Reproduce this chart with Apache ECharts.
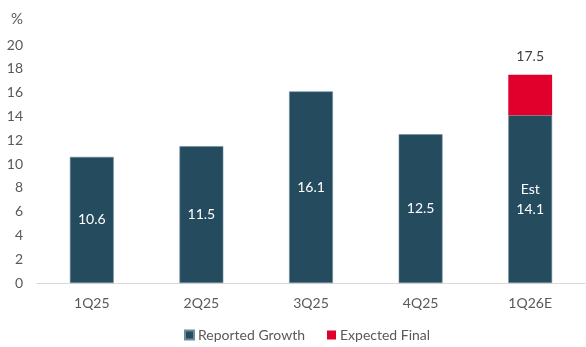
<!DOCTYPE html>
<html><head><meta charset="utf-8">
<script src="https://cdn.jsdelivr.net/npm/echarts@6/dist/echarts.min.js"></script>
<style>html,body{margin:0;padding:0;background:#fff}#c{width:586px;height:347px}</style>
</head><body><div id="c"></div>
<script>
const categories = ['1Q25','2Q25','3Q25','4Q25','1Q26E'];
const reportedGrowth = [10.6, 11.5, 16.1, 12.5, 14.1];
const expectedFinal = [null, null, null, null, 17.5];
const estimateIndex = 4;

const chart = echarts.init(document.getElementById('c'), null, {renderer:'canvas'});
const font = 'Lato, "Open Sans", sans-serif';
chart.setOption({
  animation:false,
  textStyle:{fontFamily:font},
  title:{text:'%', left:6, top:7, textStyle:{fontSize:15, fontWeight:'normal', color:'#595959', fontFamily:font}},
  grid:{left:37, right:1, top:45, bottom:64, containLabel:false},
  legend:{bottom:0, left:179, itemWidth:9, itemHeight:9, itemGap:22, icon:'rect',
    textStyle:{fontSize:14, color:'#595959', fontFamily:font, padding:[0,0,0,-1]},
    data:['Reported Growth','Expected Final']},
  xAxis:{type:'category', data:categories,
    axisLine:{lineStyle:{color:'#d9d9d9'}}, axisTick:{show:false},
    axisLabel:{fontSize:14, color:'#595959', margin:13, fontFamily:font}},
  yAxis:{type:'value', min:0, max:20, interval:2,
    axisLine:{show:false}, axisTick:{show:false}, splitLine:{show:false},
    axisLabel:{fontSize:14, color:'#595959', margin:14, fontFamily:font}},
  series:[
    {name:'Reported Growth', type:'bar', stack:'a', barWidth:'40%', data:reportedGrowth,
     itemStyle:{color:'#254b5f', borderColor:'#6f8c9c', borderWidth:0.6},
     label:{show:true, position:'inside', color:'#ffffff', fontSize:14, lineHeight:20, fontFamily:font,
       formatter:p => p.dataIndex===estimateIndex ? 'Est\n'+p.value.toFixed(1) : p.value.toFixed(1)}},
    {name:'Expected Final', type:'bar', stack:'a', barWidth:'40%',
     data:expectedFinal.map((v,i)=> v==null ? null : +(v-reportedGrowth[i]).toFixed(2)),
     itemStyle:{color:'#e0002b'},
     label:{show:true, position:'top', distance:11, color:'#404040', fontSize:14, fontFamily:font,
       formatter:p => expectedFinal[p.dataIndex].toFixed(1)}}
  ]
});
</script></body></html>
